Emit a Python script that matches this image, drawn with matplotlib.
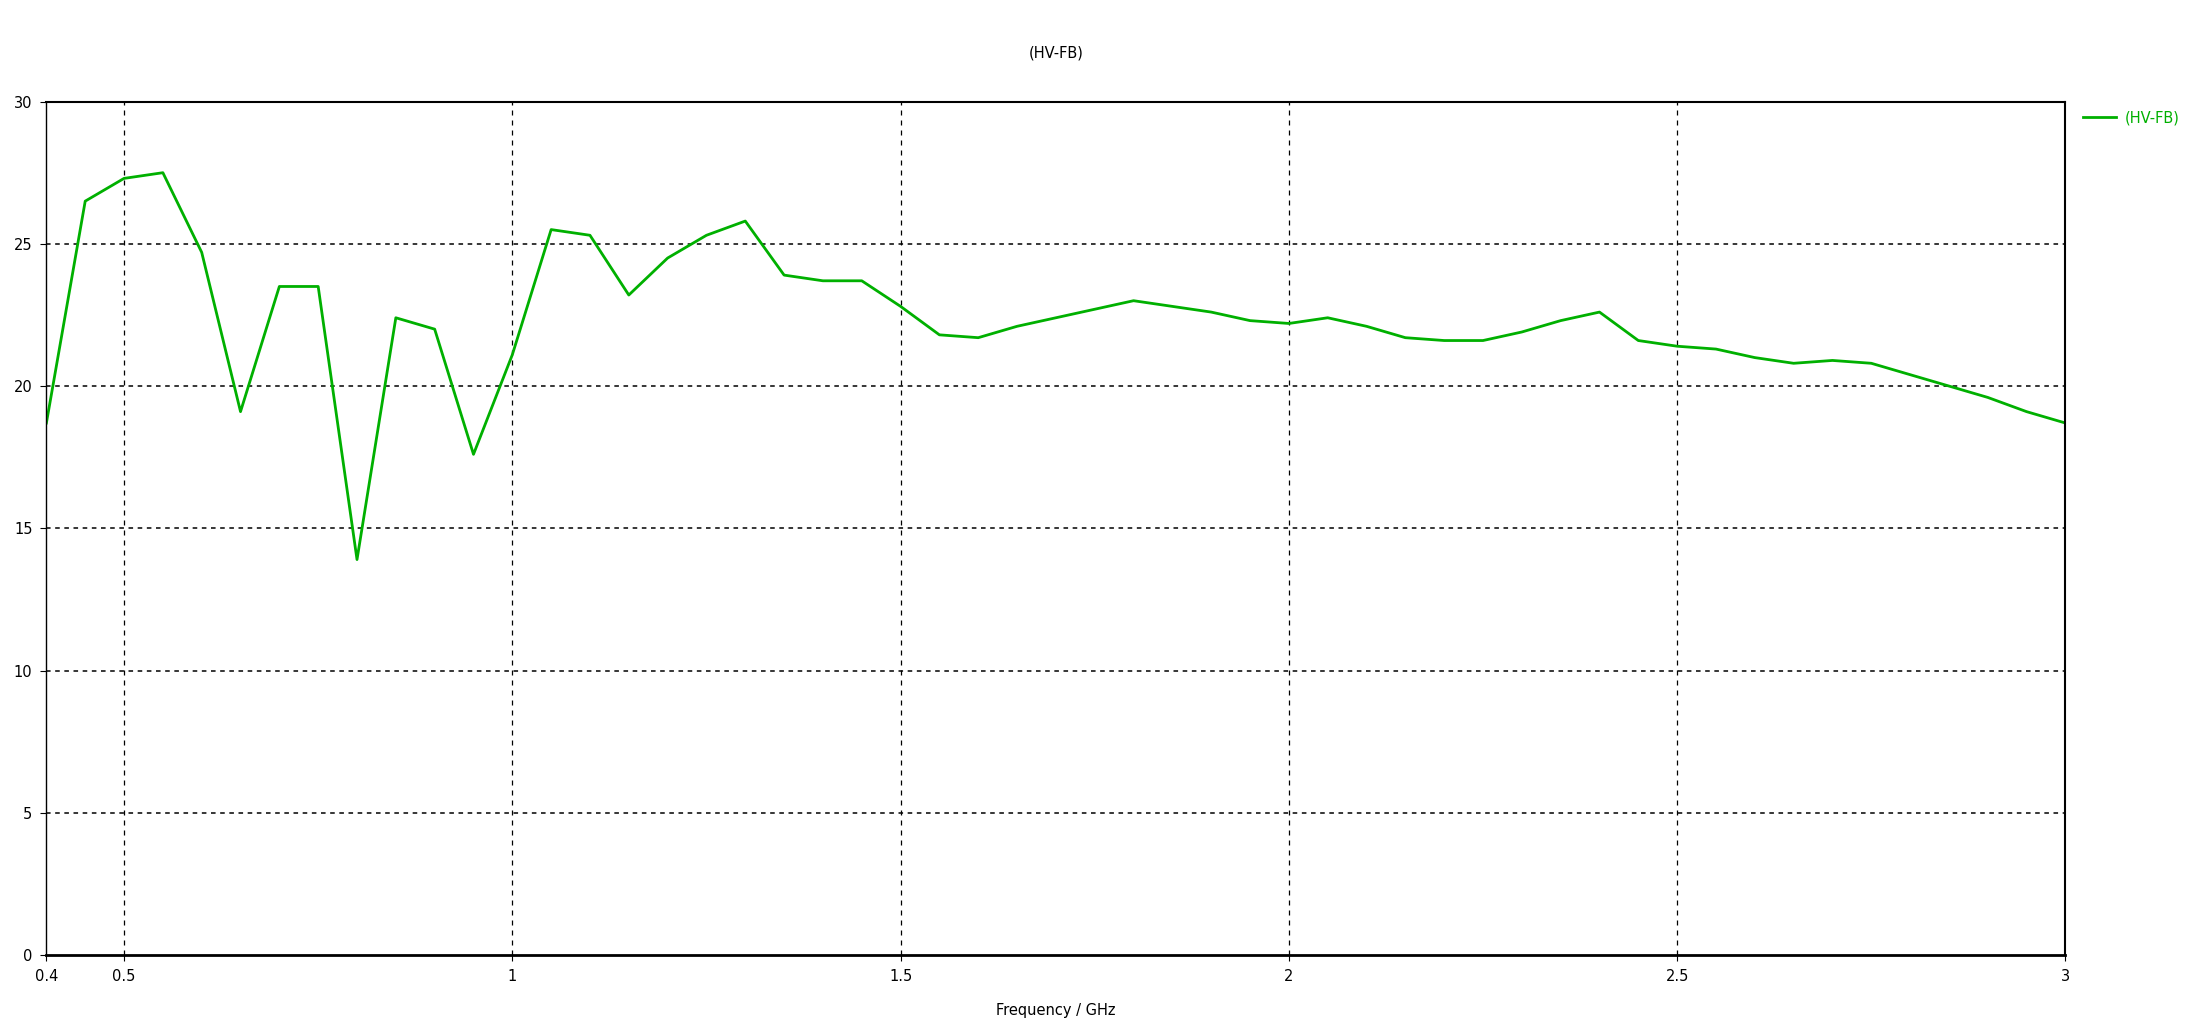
import matplotlib.pyplot as plt
from matplotlib.lines import Line2D

# frequency sweep in GHz, 0.05 GHz steps
freq = [0.4, 0.45, 0.5, 0.55, 0.6, 0.65, 0.7, 0.75, 0.8, 0.85, 0.9, 0.95,
        1.0, 1.05, 1.1, 1.15, 1.2, 1.25, 1.3, 1.35, 1.4, 1.45, 1.5, 1.55,
        1.6, 1.65, 1.7, 1.75, 1.8, 1.85, 1.9, 1.95, 2.0, 2.05, 2.1, 2.15,
        2.2, 2.25, 2.3, 2.35, 2.4, 2.45, 2.5, 2.55, 2.6, 2.65, 2.7, 2.75,
        2.8, 2.85, 2.9, 2.95, 3.0]
hv_fb = [18.7, 26.5, 27.3, 27.5, 24.7, 19.1, 23.5, 23.5, 13.9, 22.4, 22.0, 17.6,
         21.1, 25.5, 25.3, 23.2, 24.5, 25.3, 25.8, 23.9, 23.7, 23.7, 22.8, 21.8,
         21.7, 22.1, 22.4, 22.7, 23.0, 22.8, 22.6, 22.3, 22.2, 22.4, 22.1, 21.7,
         21.6, 21.6, 21.9, 22.3, 22.6, 21.6, 21.4, 21.3, 21.0, 20.8, 20.9, 20.8,
         20.4, 20.0, 19.6, 19.1, 18.7]

x_ticks = [0.4, 0.5, 1, 1.5, 2, 2.5, 3]
y_ticks = [0, 5, 10, 15, 20, 25, 30]
green = "#00b000"

fig = plt.figure(figsize=(22.09, 10.22), dpi=100)
ax = fig.add_axes([0.021, 0.0656, 0.914, 0.835])
ax.plot(freq, hv_fb, color=green, linewidth=2)

ax.set_xlim(0.4, 3.0)
ax.set_ylim(0, 30)
ax.set_xticks(x_ticks)
ax.set_xticklabels(["%g" % t for t in x_ticks])
ax.set_yticks(y_ticks)
ax.tick_params(labelsize=10.5, length=4, width=0.8, direction="out", pad=6)

# dashed black grid, skipping the axis edges
for t in [0.5, 1, 1.5, 2, 2.5]:
    ax.axvline(t, color="black", linestyle=(0, (4, 4)), linewidth=0.9, zorder=0)
for t in [5, 10, 15, 20, 25]:
    ax.axhline(t, color="black", linestyle=(0, (3, 3)), linewidth=1.1, zorder=0)

for s in ["top", "right"]:
    ax.spines[s].set_linewidth(1.5)
ax.spines["bottom"].set_linewidth(2)
ax.spines["left"].set_linewidth(1)

ax.set_xlabel("Frequency / GHz", fontsize=10.5, labelpad=14)
fig.text(0.478, 0.948, "(HV-FB)", ha="center", va="center", fontsize=10.5)

handle = Line2D([], [], color=green, linewidth=2)
leg = fig.legend([handle], ["(HV-FB)"], loc="upper left",
                 bbox_to_anchor=(0.937, 0.905), frameon=False, fontsize=10.5,
                 handlelength=2.3, handletextpad=0.6)
for txt in leg.get_texts():
    txt.set_color(green)

fig.savefig("out.png", dpi=100, facecolor="white")
